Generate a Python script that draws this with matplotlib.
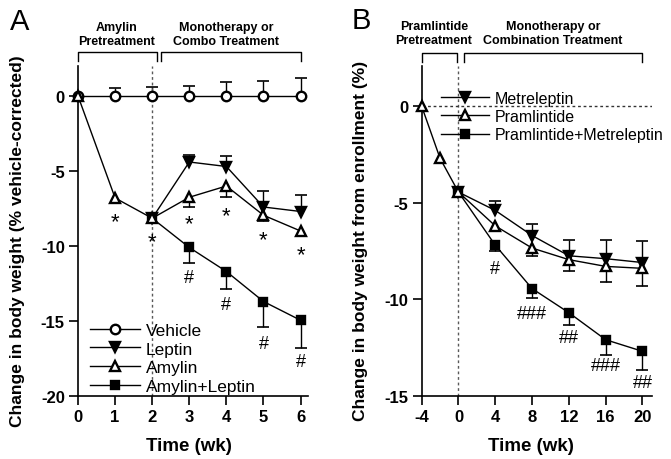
import matplotlib
matplotlib.use("Agg")
import matplotlib.pyplot as plt
import numpy as np

plt.rcParams['font.family'] = ['Liberation Sans', 'DejaVu Sans']
plt.rcParams['axes.unicode_minus'] = False

# panel A data (weeks, % vehicle-corrected)
wk_a = [0, 1, 2, 3, 4, 5, 6]
vehicle = [0, 0, 0, 0, 0, 0, 0]
vehicle_err = [0, 0.55, 0.6, 0.65, 0.95, 1.0, 1.2]
amylin = [0, -6.8, -8.15, -6.75, -6.0, -7.95, -9.0]
amylin_err = [0, 0, 0, 0.65, 0.7, 0.35, 0.35]
wk_a2 = [2, 3, 4, 5, 6]
leptin = [-8.15, -4.4, -4.7, -7.4, -7.7]
leptin_err = [0, 0.5, 0.7, 1.05, 1.1]
combo_a = [-8.15, -10.1, -11.7, -13.7, -14.95]
combo_a_err = [0, 1.0, 1.2, 1.7, 1.85]
star_wk = [1, 2, 3, 4, 5, 6]
star_y = [-8.4, -9.7, -8.5, -8.0, -9.6, -10.6]
hash_a_wk = [3, 4, 5, 6]
hash_a_y = [-12.1, -13.9, -16.5, -17.7]

# panel B data (weeks, % from enrollment)
wk_b = [-4, -2, 0, 4, 8, 12, 16, 20]
pram = [0, -2.7, -4.45, -6.2, -7.35, -7.95, -8.3, -8.4]
pram_err = [0, 0, 0, 0.28, 0.43, 0.57, 0.83, 0.94]
wk_b2 = [0, 4, 8, 12, 16, 20]
metre = [-4.45, -5.4, -6.7, -7.75, -7.9, -8.1]
metre_err = [0, 0.5, 0.6, 0.8, 0.95, 1.12]
combo_b = [-4.45, -7.2, -9.45, -10.7, -12.1, -12.7]
combo_b_err = [0, 0.3, 0.5, 0.65, 0.8, 0.95]
hash_b_wk = [4, 8, 12, 16, 20]
hash_b_lbl = ['#', '###', '##', '###', '##']
hash_b_y = [-8.4, -10.75, -12.0, -13.45, -14.3]


def errbar(ax, x, y, e, sign):
    x = np.array(x); y = np.array(y); e = np.array(e)
    m = e > 0
    end = y + sign * e
    ax.vlines(x[m], y[m], end[m], color='k', lw=1, zorder=1)
    ax.plot(x[m], end[m], ls='none', marker='_', ms=8, mew=1.2, color='k', zorder=1)


def series(ax, x, y, marker, face, ms, label):
    return ax.plot(x, y, color='k', lw=1, marker=marker, ms=ms, mfc=face, mec='k',
                   mew=1.7, label=label, clip_on=False, zorder=3)[0]


def style(ax, left_at, xlo, xhi):
    for s in ['top', 'right']:
        ax.spines[s].set_visible(False)
    ax.spines['left'].set_position(('data', left_at))
    ax.spines['bottom'].set_bounds(xlo, xhi)
    for s in ['left', 'bottom']:
        ax.spines[s].set_linewidth(1.2)
    ax.tick_params(direction='out', length=6.5, width=1.2, labelsize=12, pad=3)
    for lbl in ax.get_xticklabels() + ax.get_yticklabels():
        lbl.set_fontweight('bold')


fig = plt.figure(figsize=(6.71, 4.60), dpi=100)

# ---- panel A
axA = fig.add_axes([68 / 671, 63 / 460, 240 / 671, 330 / 460])
axA.set_xlim(-0.27, 6.2)
axA.set_ylim(-20, 2)
axA.set_xticks(range(0, 7))
axA.set_yticks([0, -5, -10, -15, -20])
style(axA, 0, 0, 6.2)
axA.vlines(2, -20, 2, colors='0.35', linestyles=(0, (2, 2)), lw=1)

errbar(axA, wk_a, vehicle, vehicle_err, 1)
errbar(axA, wk_a2, leptin, leptin_err, 1)
errbar(axA, wk_a, amylin, amylin_err, -1)
errbar(axA, wk_a2, combo_a, combo_a_err, -1)
hv = series(axA, wk_a, vehicle, 'o', 'white', 6.8, 'Vehicle')
hc = series(axA, wk_a2, combo_a, 's', 'black', 6.3, 'Amylin+Leptin')
hl = series(axA, wk_a2, leptin, 'v', 'black', 7.3, 'Leptin')
ha = series(axA, wk_a, amylin, '^', 'white', 7.3, 'Amylin')

for x, y in zip(star_wk, star_y):
    axA.text(x, y, '*', ha='center', va='center', fontsize=16)
for x, y in zip(hash_a_wk, hash_a_y):
    axA.text(x, y, '#', ha='center', va='center', fontsize=13)

axA.plot([0, 0, 2.12, 2.12], [2.33, 2.93, 2.93, 2.33], color='k', lw=1, clip_on=False)
axA.plot([2.24, 2.24, 6.0, 6.0], [2.33, 2.93, 2.93, 2.33], color='k', lw=1, clip_on=False)
axA.text(1.05, 4.13, 'Amylin\nPretreatment', ha='center', va='center', fontsize=9,
         fontweight='bold', linespacing=1.3)
axA.text(3.99, 4.13, 'Monotherapy or\nCombo Treatment', ha='center', va='center', fontsize=9,
         fontweight='bold', linespacing=1.3)

axA.legend([hv, hl, ha, hc], ['Vehicle', 'Leptin', 'Amylin', 'Amylin+Leptin'],
           loc='upper left', bbox_to_anchor=(0.092, 0.222), frameon=False, fontsize=12.5,
           handlelength=2.9, handletextpad=0.3, labelspacing=0.2, borderpad=0,
           borderaxespad=0)

# ---- panel B
axB = fig.add_axes([412 / 671, 63.3 / 460, 239.7 / 671, 330 / 460])
axB.set_xlim(-5.05, 21.0)
axB.set_ylim(-15, 2.1)
axB.set_xticks([-4, 0, 4, 8, 12, 16, 20])
axB.set_yticks([0, -5, -10, -15])
style(axB, -4, -4, 21.0)
axB.vlines(0, -15, 2.1, colors='0.35', linestyles=(0, (2, 2)), lw=1)
axB.hlines(0, -4, 21.0, colors='0.2', linestyles=(0, (2, 2)), lw=1)

errbar(axB, wk_b2, metre, metre_err, 1)
errbar(axB, wk_b, pram, pram_err, -1)
errbar(axB, wk_b2, combo_b, combo_b_err, -1)
hcb = series(axB, wk_b2, combo_b, 's', 'black', 6.3, 'Pramlintide+Metreleptin')
hm = series(axB, wk_b2, metre, 'v', 'black', 7.3, 'Metreleptin')
hp = series(axB, wk_b, pram, '^', 'white', 7.3, 'Pramlintide')

for x, y, t in zip(hash_b_wk, hash_b_y, hash_b_lbl):
    axB.text(x, y, t, ha='center', va='center', fontsize=13)

axB.plot([-3.97, -3.97, -0.2, -0.2], [2.3, 2.76, 2.76, 2.3], color='k', lw=1, clip_on=False)
axB.plot([0.55, 0.55, 19.97, 19.97], [2.3, 2.76, 2.76, 2.3], color='k', lw=1, clip_on=False)
axB.text(-2.66, 3.8, 'Pramlintide\nPretreatment', ha='center', va='center', fontsize=9,
         fontweight='bold', linespacing=1.3)
axB.text(10.29, 3.8, 'Monotherapy or\nCombination Treatment', ha='center', va='center',
         fontsize=9, fontweight='bold', linespacing=1.3)

axB.legend([hm, hp, hcb], ['Metreleptin', 'Pramlintide', 'Pramlintide+Metreleptin'],
           loc='upper left', bbox_to_anchor=(0.121, 0.924), frameon=False, fontsize=11.5,
           handlelength=3.0, handletextpad=0.35, labelspacing=0.2, borderpad=0,
           borderaxespad=0)

# labels
fig.text(18 / 671, 1 - 241 / 460, 'Change in body weight (% vehicle-corrected)', rotation=90,
         ha='center', va='center', fontsize=12.5, fontweight='bold')
fig.text(360 / 671, 1 - 241 / 460, 'Change in body weight from enrollment (%)', rotation=90,
         ha='center', va='center', fontsize=12.5, fontweight='bold')
fig.text(189 / 671, 1 - 447 / 460, 'Time (wk)', ha='center', va='center', fontsize=13.5,
         fontweight='bold')
fig.text(531 / 671, 1 - 447 / 460, 'Time (wk)', ha='center', va='center', fontsize=13.5,
         fontweight='bold')
fig.text(20 / 671, 1 - 22 / 460, 'A', ha='center', va='center', fontsize=21)
fig.text(361 / 671, 1 - 21 / 460, 'B', ha='center', va='center', fontsize=21)

fig.savefig('out.png', dpi=100)
